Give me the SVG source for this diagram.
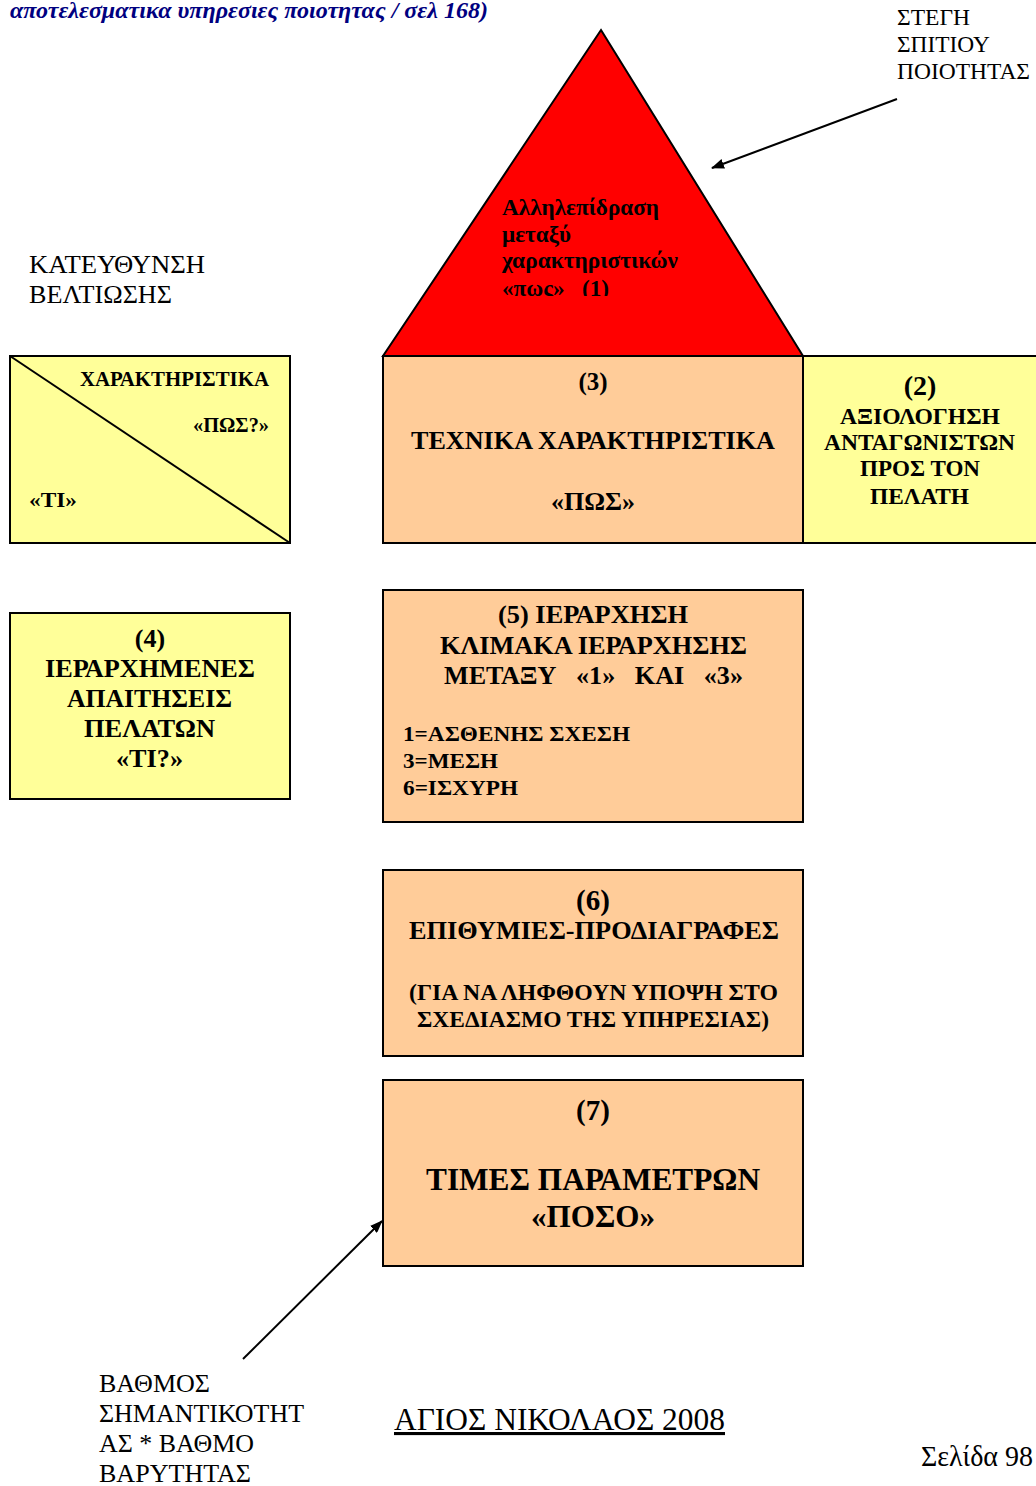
<svg xmlns="http://www.w3.org/2000/svg" width="1036" height="1486" viewBox="0 0 1036 1486">
<style>
text{font-family:"Liberation Serif","Times New Roman",serif;fill:#000}
.b{font-weight:bold}
.c{text-anchor:middle}
.box{stroke:#000;stroke-width:2}
.y{fill:#FFFF99}
.p{fill:#FFCC99}
.ln{stroke:#000;stroke-width:2;fill:none}
</style>
<defs>
<marker id="ah" markerWidth="13" markerHeight="10" refX="12" refY="5" orient="auto" markerUnits="userSpaceOnUse">
<path d="M0,0 L13,5 L0,10 Z" fill="#000"/>
</marker>
<clipPath id="tclip"><rect x="380" y="190" width="340" height="106"/></clipPath>
</defs>
<rect width="1036" height="1486" fill="#fff"/>
<text x="10" y="18" class="b" font-style="italic" font-size="23" style="fill:#000080" textLength="478" lengthAdjust="spacingAndGlyphs">αποτελεσματικα υπηρεσιες ποιοτητας / σελ 168)</text>

<g id="roof">
<polygon points="601,30 803,356 383,356" fill="#FF0000" stroke="#000" stroke-width="2"/>
<g clip-path="url(#tclip)" font-size="23">
<text x="502" y="215" class="b" textLength="157" lengthAdjust="spacingAndGlyphs">Αλληλεπίδραση</text>
<text x="502" y="242" class="b" textLength="69" lengthAdjust="spacingAndGlyphs">μεταξύ</text>
<text x="502" y="268" class="b" textLength="176" lengthAdjust="spacingAndGlyphs">χαρακτηριστικών</text>
<text x="502" y="296" class="b" textLength="107" lengthAdjust="spacingAndGlyphs" xml:space="preserve">«πως»   (1)</text>
</g>
</g>

<g id="roof-label" font-size="23">
<text x="897" y="25" textLength="73" lengthAdjust="spacingAndGlyphs">ΣΤΕΓΗ</text>
<text x="897" y="52" textLength="93" lengthAdjust="spacingAndGlyphs">ΣΠΙΤΙΟΥ</text>
<text x="897" y="79" textLength="133" lengthAdjust="spacingAndGlyphs">ΠΟΙΟΤΗΤΑΣ</text>
</g>

<g id="direction-label" font-size="25">
<text x="29" y="273" textLength="176" lengthAdjust="spacingAndGlyphs">ΚΑΤΕΥΘΥΝΣΗ</text>
<text x="29" y="303" textLength="143" lengthAdjust="spacingAndGlyphs">ΒΕΛΤΙΩΣΗΣ</text>
</g>

<g id="corner">
<rect x="10" y="356" width="280" height="187" class="box y"/>
<line x1="10" y1="356" x2="290" y2="543" class="ln"/>
<text x="80" y="386" class="b" font-size="21" textLength="189" lengthAdjust="spacingAndGlyphs">ΧΑΡΑΚΤΗΡΙΣΤΙΚΑ</text>
<text x="193" y="432" class="b" font-size="21" textLength="76" lengthAdjust="spacingAndGlyphs">«ΠΩΣ?»</text>
<text x="29" y="507" class="b" font-size="22" textLength="48" lengthAdjust="spacingAndGlyphs">«ΤΙ»</text>
</g>

<g id="box3">
<rect x="383" y="356" width="420" height="187" class="box p"/>
<text x="593" y="390" class="b c" font-size="25">(3)</text>
<text x="411" y="449" class="b" font-size="26" textLength="364" lengthAdjust="spacingAndGlyphs">ΤΕΧΝΙΚΑ ΧΑΡΑΚΤΗΡΙΣΤΙΚΑ</text>
<text x="551" y="510" class="b" font-size="26" textLength="84" lengthAdjust="spacingAndGlyphs">«ΠΩΣ»</text>
</g>

<g id="box2">
<rect x="803" y="356" width="240" height="187" class="box y"/>
<text x="920" y="395" class="b c" font-size="28">(2)</text>
<text x="840" y="424" class="b" font-size="23" textLength="160" lengthAdjust="spacingAndGlyphs">ΑΞΙΟΛΟΓΗΣΗ</text>
<text x="824" y="450" class="b" font-size="23" textLength="191" lengthAdjust="spacingAndGlyphs">ΑΝΤΑΓΩΝΙΣΤΩΝ</text>
<text x="860" y="476" class="b" font-size="23" textLength="120" lengthAdjust="spacingAndGlyphs">ΠΡΟΣ ΤΟΝ</text>
<text x="870" y="504" class="b" font-size="23" textLength="99" lengthAdjust="spacingAndGlyphs">ΠΕΛΑΤΗ</text>
</g>

<g id="box4">
<rect x="10" y="613" width="280" height="186" class="box y"/>
<text x="150" y="647" class="b c" font-size="26">(4)</text>
<text x="45" y="677" class="b" font-size="26" textLength="210" lengthAdjust="spacingAndGlyphs">ΙΕΡΑΡΧΗΜΕΝΕΣ</text>
<text x="67" y="707" class="b" font-size="26" textLength="165" lengthAdjust="spacingAndGlyphs">ΑΠΑΙΤΗΣΕΙΣ</text>
<text x="84" y="737" class="b" font-size="26" textLength="131" lengthAdjust="spacingAndGlyphs">ΠΕΛΑΤΩΝ</text>
<text x="116" y="767" class="b" font-size="26" textLength="67" lengthAdjust="spacingAndGlyphs">«ΤΙ?»</text>
</g>

<g id="box5">
<rect x="383" y="590" width="420" height="232" class="box p"/>
<text x="498" y="623" class="b" font-size="26" textLength="190" lengthAdjust="spacingAndGlyphs">(5) ΙΕΡΑΡΧΗΣΗ</text>
<text x="440" y="654" class="b" font-size="26" textLength="307" lengthAdjust="spacingAndGlyphs">ΚΛΙΜΑΚΑ ΙΕΡΑΡΧΗΣΗΣ</text>
<text x="444" y="684" class="b" font-size="26" textLength="299" lengthAdjust="spacingAndGlyphs" xml:space="preserve">ΜΕΤΑΞΥ   «1»   ΚΑΙ   «3»</text>
<text x="403" y="741" class="b" font-size="22" textLength="227" lengthAdjust="spacingAndGlyphs">1=ΑΣΘΕΝΗΣ ΣΧΕΣΗ</text>
<text x="403" y="768" class="b" font-size="22" textLength="95" lengthAdjust="spacingAndGlyphs">3=ΜΕΣΗ</text>
<text x="403" y="795" class="b" font-size="22" textLength="115" lengthAdjust="spacingAndGlyphs">6=ΙΣΧΥΡΗ</text>
</g>

<g id="box6">
<rect x="383" y="870" width="420" height="186" class="box p"/>
<text x="593" y="910" class="b c" font-size="29">(6)</text>
<text x="409" y="939" class="b" font-size="26" textLength="370" lengthAdjust="spacingAndGlyphs">ΕΠΙΘΥΜΙΕΣ-ΠΡΟΔΙΑΓΡΑΦΕΣ</text>
<text x="409" y="1000" class="b" font-size="23" textLength="369" lengthAdjust="spacingAndGlyphs">(ΓΙΑ ΝΑ ΛΗΦΘΟΥΝ ΥΠΟΨΗ ΣΤΟ</text>
<text x="417" y="1027" class="b" font-size="23" textLength="352" lengthAdjust="spacingAndGlyphs">ΣΧΕΔΙΑΣΜΟ ΤΗΣ ΥΠΗΡΕΣΙΑΣ)</text>
</g>

<g id="box7">
<rect x="383" y="1080" width="420" height="186" class="box p"/>
<text x="593" y="1120" class="b c" font-size="29">(7)</text>
<text x="426" y="1190" class="b" font-size="31" textLength="334" lengthAdjust="spacingAndGlyphs">ΤΙΜΕΣ ΠΑΡΑΜΕΤΡΩΝ</text>
<text x="531" y="1227" class="b" font-size="31" textLength="124" lengthAdjust="spacingAndGlyphs">«ΠΟΣΟ»</text>
</g>

<g id="connectors">
<line x1="897" y1="99" x2="712" y2="168" class="ln" marker-end="url(#ah)"/>
<line x1="243" y1="1359" x2="382" y2="1221" class="ln" marker-end="url(#ah)"/>
</g>

<g id="weight-label" font-size="25">
<text x="99" y="1392" textLength="111" lengthAdjust="spacingAndGlyphs">ΒΑΘΜΟΣ</text>
<text x="99" y="1422" textLength="205" lengthAdjust="spacingAndGlyphs">ΣΗΜΑΝΤΙΚΟΤΗΤ</text>
<text x="99" y="1452" textLength="155" lengthAdjust="spacingAndGlyphs">ΑΣ * ΒΑΘΜΟ</text>
<text x="99" y="1482" textLength="152" lengthAdjust="spacingAndGlyphs">ΒΑΡΥΤΗΤΑΣ</text>
</g>

<text x="394" y="1430" font-size="31" text-decoration="underline" textLength="331" lengthAdjust="spacingAndGlyphs">ΑΓΙΟΣ ΝΙΚΟΛΑΟΣ 2008</text>
<text x="921" y="1466" font-size="29" textLength="112" lengthAdjust="spacingAndGlyphs">Σελίδα 98</text>
</svg>
